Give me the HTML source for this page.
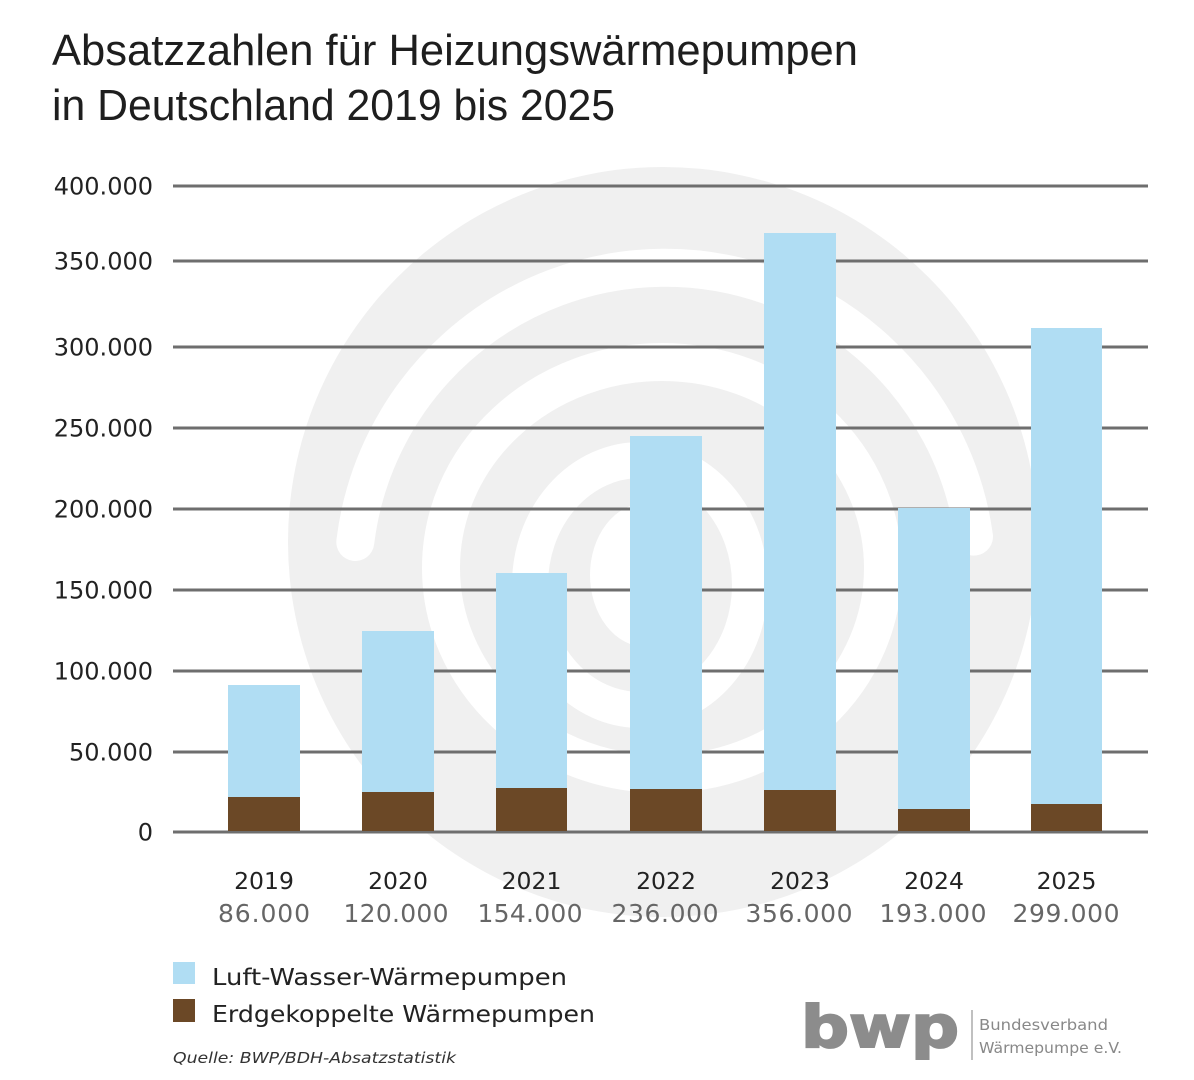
<!DOCTYPE html>
<html><head><meta charset="utf-8"><style>
html,body{margin:0;padding:0;background:#fff;}
svg{display:block;}
</style></head><body>
<svg width="1194" height="1080" viewBox="0 0 1194 1080" xmlns="http://www.w3.org/2000/svg">
<rect width="1194" height="1080" fill="#fff"/>
<!-- background swirl -->
<circle cx="663" cy="542" r="375" fill="#f0f0f0"/>
<path d="M355.3,542 A312,312 0 0,1 974,536.6" fill="none" stroke="#fff" stroke-width="38" stroke-linecap="round"/>
<ellipse cx="662" cy="568" rx="221" ry="206" fill="none" stroke="#fff" stroke-width="38"/>
<ellipse cx="640" cy="585" rx="110" ry="125" fill="none" stroke="#fff" stroke-width="36"/>
<ellipse cx="646" cy="575" rx="56" ry="72" fill="#fff"/>

<!-- gridlines -->
<g stroke="#6e6e6e" stroke-width="3">
<line x1="173" y1="186" x2="1148" y2="186"/>
<line x1="173" y1="261" x2="1148" y2="261"/>
<line x1="173" y1="347" x2="1148" y2="347"/>
<line x1="173" y1="428" x2="1148" y2="428"/>
<line x1="173" y1="509" x2="1148" y2="509"/>
<line x1="173" y1="590" x2="1148" y2="590"/>
<line x1="173" y1="671" x2="1148" y2="671"/>
<line x1="173" y1="752" x2="1148" y2="752"/>
<line x1="173" y1="832" x2="1148" y2="832"/>
</g>

<!-- bars -->
<g fill="#b0ddf3">
<rect x="228" y="685" width="72" height="112"/>
<rect x="362" y="631" width="72" height="161"/>
<rect x="496" y="573" width="71" height="215"/>
<rect x="630" y="436" width="72" height="353"/>
<rect x="764" y="233" width="72" height="557"/>
<rect x="898" y="508" width="72" height="301"/>
<rect x="1031" y="328" width="71" height="476"/>
</g>
<g fill="#6b4826">
<rect x="228" y="797" width="72" height="34"/>
<rect x="362" y="792" width="72" height="39"/>
<rect x="496" y="788" width="71" height="43"/>
<rect x="630" y="789" width="72" height="42"/>
<rect x="764" y="790" width="72" height="41"/>
<rect x="898" y="809" width="72" height="22"/>
<rect x="1031" y="804" width="71" height="27"/>
</g>

<!-- title -->
<g font-family="'Liberation Sans', sans-serif" font-size="43.5" fill="#1e1e1e">
<text x="52" y="65" textLength="806" lengthAdjust="spacingAndGlyphs">Absatzzahlen für Heizungswärmepumpen</text>
<text x="52" y="120" textLength="563" lengthAdjust="spacingAndGlyphs">in Deutschland 2019 bis 2025</text>
</g>

<!-- y labels -->
<g font-family="'DejaVu Sans', sans-serif" font-size="24" fill="#222" text-anchor="end">
<text x="153" y="194.5">400.000</text>
<text x="153" y="269.5">350.000</text>
<text x="153" y="355.5">300.000</text>
<text x="153" y="436.5">250.000</text>
<text x="153" y="517.5">200.000</text>
<text x="153" y="598.5">150.000</text>
<text x="153" y="679.5">100.000</text>
<text x="153" y="760.5">50.000</text>
<text x="153" y="840.5">0</text>
</g>

<!-- x labels -->
<g font-family="'DejaVu Sans', sans-serif" font-size="23.5" fill="#222" text-anchor="middle">
<text x="264" y="889">2019</text>
<text x="398" y="889">2020</text>
<text x="531.5" y="889">2021</text>
<text x="666" y="889">2022</text>
<text x="800" y="889">2023</text>
<text x="934" y="889">2024</text>
<text x="1066.5" y="889">2025</text>
</g>
<g font-family="'DejaVu Sans', sans-serif" font-size="25" fill="#666" text-anchor="middle">
<text x="264" y="922" textLength="92" lengthAdjust="spacing">86.000</text>
<text x="396" y="922" textLength="105" lengthAdjust="spacing">120.000</text>
<text x="530" y="922" textLength="105" lengthAdjust="spacing">154.000</text>
<text x="665" y="922" textLength="107" lengthAdjust="spacing">236.000</text>
<text x="799" y="922" textLength="107" lengthAdjust="spacing">356.000</text>
<text x="933" y="922" textLength="107" lengthAdjust="spacing">193.000</text>
<text x="1066" y="922" textLength="107" lengthAdjust="spacing">299.000</text>
</g>

<!-- legend -->
<rect x="173" y="962" width="22" height="22" fill="#b0ddf3"/>
<rect x="173" y="999" width="22" height="23" fill="#6b4826"/>
<g font-family="'DejaVu Sans', sans-serif" font-size="23.5" fill="#222">
<text x="212" y="985" textLength="355" lengthAdjust="spacingAndGlyphs">Luft-Wasser-Wärmepumpen</text>
<text x="212" y="1022" textLength="383" lengthAdjust="spacingAndGlyphs">Erdgekoppelte Wärmepumpen</text>
</g>
<text x="173" y="1063" font-family="'DejaVu Sans', sans-serif" font-style="italic" font-size="15" fill="#333" textLength="283" lengthAdjust="spacingAndGlyphs">Quelle: BWP/BDH-Absatzstatistik</text>

<!-- logo -->
<text x="801" y="1047" font-family="'DejaVu Sans', sans-serif" font-weight="bold" font-size="58" fill="#8c8c8c" stroke="#8c8c8c" stroke-width="2" textLength="158" lengthAdjust="spacingAndGlyphs">bwp</text>
<line x1="972" y1="1010" x2="972" y2="1060" stroke="#aaa" stroke-width="1.5"/>
<g font-family="'DejaVu Sans', sans-serif" font-size="15" fill="#888">
<text x="979" y="1030" textLength="129" lengthAdjust="spacingAndGlyphs">Bundesverband</text>
<text x="979" y="1053" textLength="143" lengthAdjust="spacingAndGlyphs">Wärmepumpe e.V.</text>
</g>
</svg>
</body></html>
